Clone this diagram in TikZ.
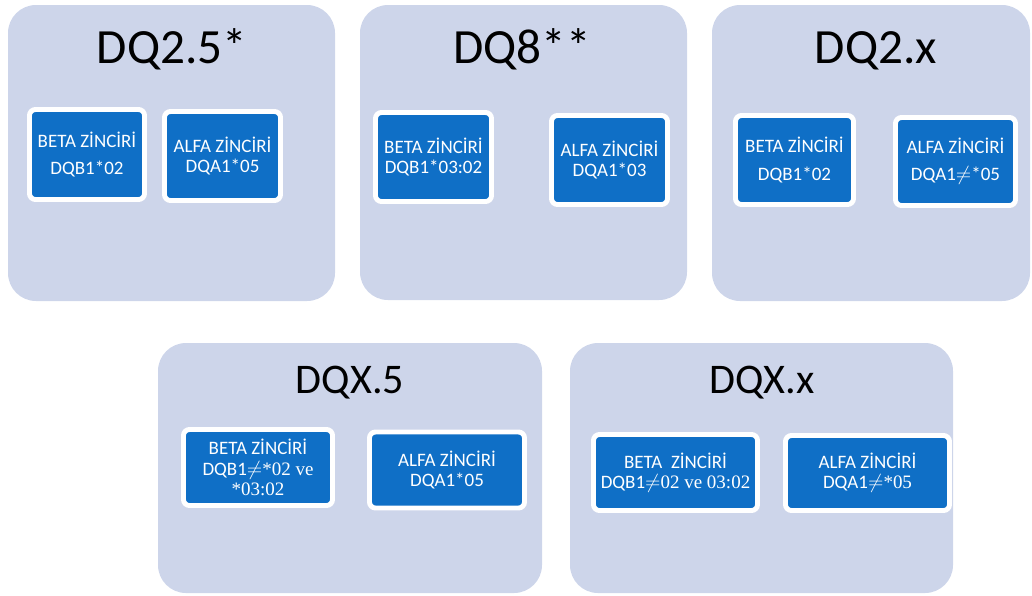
\documentclass[tikz,border=0pt]{standalone}
\usepackage{fontspec}
\setmainfont{Carlito}
\newfontfamily\timesfont{Liberation Serif}
\definecolor{panelfill}{HTML}{CDD5EA}
\definecolor{chainblue}{HTML}{0F6FC6}
\tikzset{
  panel/.style={fill=panelfill,rounded corners=0.7cm},
  title/.style={anchor=base,font=\fontsize{35}{40}\selectfont,text=black,inner sep=0pt},
  subtitle/.style={title,font=\fontsize{30}{36}\selectfont},
  chain/.style={fill=chainblue,draw=white,line width=3.5pt,rounded corners=0.15cm,
    text=white,align=center,inner sep=0pt,font=\fontsize{13.5}{14.5}\selectfont},
  wide/.style={font=\fontsize{13.5}{19.5}\selectfont},
}
\begin{document}
\begin{tikzpicture}[x=0.025cm,y=-0.025cm]
    \useasboundingbox (0,0) rectangle (1032,595);
    % ------------- top row -------------
    \fill[panel] (8,5) rectangle (335,301);
    \node[title] (t25) at (172,63) {DQ2.5*};
    \node[chain,wide,minimum width=2.875cm,minimum height=2.25cm] (b25) at (87,154.5) {BETA ZİNCİRİ\\DQB1*02};
    \node[chain,minimum width=2.9cm,minimum height=2.225cm] (a25) at (222.5,156) {ALFA ZİNCİRİ\\DQA1*05};

    \fill[panel] (360,5) rectangle (687,300);
    \node[title] (t8) at (522,63) {DQ8**};
    \node[chain,minimum width=2.9cm,minimum height=2.225cm] (b8) at (433.5,157) {BETA ZİNCİRİ\\DQB1*03:02};
    \node[chain,minimum width=2.9cm,minimum height=2.225cm] (a8) at (609.5,160) {ALFA ZİNCİRİ\\DQA1*03};

    \fill[panel] (712,5) rectangle (1030,301);
    \node[title] (t2x) at (876,63) {DQ2.x};
    \node[chain,wide,minimum width=2.95cm,minimum height=2.225cm] (b2x) at (794.5,160) {BETA ZİNCİRİ\\DQB1*02};
    \node[chain,wide,minimum width=3cm,minimum height=2.2cm] (a2x) at (955.5,161.5) {ALFA ZİNCİRİ\\DQA1$\neq$*05};
    % ------------- bottom row -------------
    \fill[panel] (158,343) rectangle (542,593);
    \node[subtitle] (tx5) at (350,393) {DQX.5};
    \node[chain,minimum width=3.725cm,minimum height=1.9cm] (bx5) at (258,467.5)
      {BETA ZİNCİRİ\\DQB1$\neq$\timesfont*02 ve\\\timesfont*03:02};
    \node[chain,minimum width=3.875cm,minimum height=1.9cm] (ax5) at (447,470) {ALFA ZİNCİRİ\\DQA1*05};

    \fill[panel] (570,343) rectangle (953,593);
    \node[subtitle] (txx) at (762,393) {DQX.x};
    \node[chain,minimum width=4.1cm,minimum height=1.9cm] (bxx) at (675.5,472.5)
      {BETA\ \ ZİNCİRİ\\DQB1$\neq$\timesfont02 ve 03:02};
    \node[chain,minimum width=4.1cm,minimum height=1.875cm] (axx) at (867.5,473)
      {ALFA ZİNCİRİ\\DQA1$\neq$\timesfont*05};
  \end{tikzpicture}
\end{document}
